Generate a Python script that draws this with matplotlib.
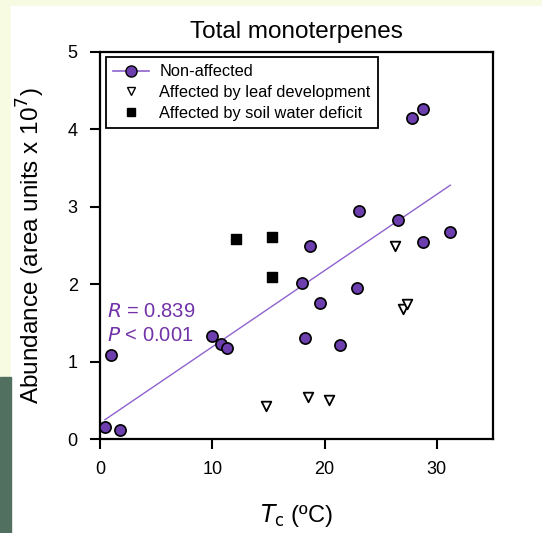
import numpy as np
import matplotlib.pyplot as plt
from matplotlib.lines import Line2D
from matplotlib.patches import Rectangle

plt.rcParams['font.family'] = ['Liberation Sans', 'DejaVu Sans']

# Non-affected samples (Tc, abundance x 10^7)
tc_non = [0.44, 1.8, 0.98, 10.0, 10.8, 11.35, 27.8, 28.8, 23.1, 26.5,
          18.7, 28.8, 31.2, 17.95, 22.9, 19.6, 18.3, 21.4]
ab_non = [0.16, 0.12, 1.09, 1.33, 1.23, 1.18, 4.15, 4.27, 2.95, 2.83,
          2.50, 2.54, 2.68, 2.02, 1.95, 1.76, 1.30, 1.21]

# Affected by leaf development
tc_leaf = [14.8, 18.55, 20.35, 26.3, 27.0, 27.3]
ab_leaf = [0.42, 0.54, 0.50, 2.50, 1.68, 1.74]

# Affected by soil water deficit
tc_soil = [12.15, 15.35, 15.35]
ab_soil = [2.58, 2.61, 2.09]

r_text = "0.839"
p_text = "0.001"

purple = '#6d3fae'
line_purple = '#8f62cf'
text_purple = '#7232a8'

W, H = 542, 533
fig = plt.figure(figsize=(W / 100, H / 100), dpi=100)

# page background behind the figure
fig.patches.append(Rectangle((0, 0), 1, 1, transform=fig.transFigure,
                             color='#f7fbe2', zorder=-3))
fig.patches.append(Rectangle((11 / W, 0), 1, 1 - 6 / H, transform=fig.transFigure,
                             color='white', zorder=-2))
fig.patches.append(Rectangle((0, 0), 11 / W, 1 - 377 / H, transform=fig.transFigure,
                             color='#51705f', zorder=-2))

ax = fig.add_axes([100 / W, 1 - 439 / H, 393 / W, 387 / H])
ax.set_facecolor('white')

# regression on non-affected samples
slope, intercept = np.polyfit(tc_non, ab_non, 1)
xs = np.array([min(tc_non), max(tc_non)])
ax.plot(xs, intercept + slope * xs, color=line_purple, lw=1.0, zorder=2)

ax.scatter(tc_non, ab_non, s=65, marker='o', facecolor=purple,
           edgecolor='black', linewidth=1.2, zorder=3)
ax.scatter(tc_leaf, ab_leaf, s=48, marker='v', facecolor='white',
           edgecolor='black', linewidth=1.3, zorder=3)
ax.scatter(tc_soil, ab_soil, s=55, marker='s', facecolor='black',
           edgecolor='black', linewidth=1.0, zorder=3)

ax.text(0.6, 1.58, '$\\it{R}$ = ' + r_text, color=text_purple, fontsize=14.5)
ax.text(0.6, 1.26, '$\\it{P}$ < ' + p_text, color=text_purple, fontsize=14.5)

ax.set_xlim(0, 35)
ax.set_ylim(0, 5)
ax.set_xticks([0, 10, 20, 30])
ax.set_yticks([0, 1, 2, 3, 4, 5])
ax.tick_params(direction='out', length=7, width=1.5, labelsize=13, pad=9)
for sp in ax.spines.values():
    sp.set_linewidth(1.6)

ax.set_title('Total monoterpenes', fontsize=17.5, pad=10)
ax.set_xlabel('$\\it{T}_{\\rm c}$ (ºC)', fontsize=17)
ax.set_ylabel('Abundance (area units x 10$^{7}$)', fontsize=17.5)
ax.xaxis.set_label_coords(0.5, -0.163)
ax.yaxis.set_label_coords(-0.135, 0.5)

handles = [
    Line2D([], [], color=line_purple, lw=1.2, marker='o', markersize=8,
           markerfacecolor=purple, markeredgecolor='black'),
    Line2D([], [], ls='none', marker='v', markersize=6,
           markerfacecolor='white', markeredgecolor='black'),
    Line2D([], [], ls='none', marker='s', markersize=6,
           markerfacecolor='black', markeredgecolor='black'),
]
labels = ['Non-affected', 'Affected by leaf development', 'Affected by soil water deficit']
leg = ax.legend(handles, labels, loc='upper left', bbox_to_anchor=(0.015, 0.987),
                borderaxespad=0, fontsize=11.8, fancybox=False, framealpha=1,
                edgecolor='black', handlelength=2.2, handletextpad=0.6,
                labelspacing=0.35, borderpad=0.45)
leg.get_frame().set_linewidth(1.3)

fig.savefig('out.png', dpi=100)
